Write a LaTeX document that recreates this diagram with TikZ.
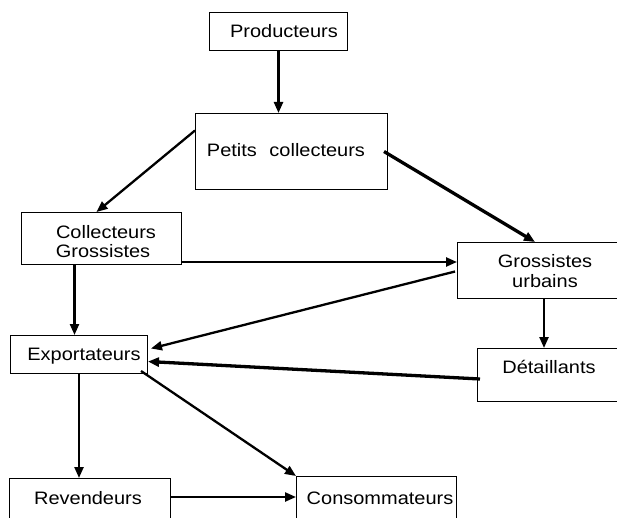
\documentclass[tikz,border=0pt]{standalone}
\usepackage{fontspec}
\setmainfont{Liberation Sans}
\usetikzlibrary{arrows.meta}
\newcommand{\wtxt}[1]{\scalebox{1.11}[1]{#1}}
\begin{document}
\begin{tikzpicture}[x=1pt,y=-1pt,
  box/.style={draw=black, line width=1pt, inner sep=0pt, anchor=north west},
  lbl/.style={anchor=base, inner sep=0pt, font=\fontsize{18}{20}\selectfont},
  conn/.style={line width=2.3pt, -{Triangle[length=11pt,width=9pt]}},
  thickconn/.style={conn, line width=3.3pt}]
\path[use as bounding box] (0,0) rectangle (617,518);
\fill[white] (0,0) rectangle (617,518);
\clip (0,0) rectangle (617,518);

% boxes
\node[box, minimum width=138pt, minimum height=38pt] (prod) at (209,12) {};
\node[box, minimum width=192pt, minimum height=76pt] (petits) at (195,113) {};
\node[box, minimum width=160pt, minimum height=52pt] (collg) at (21,212) {};
\node[box, minimum width=165pt, minimum height=56pt] (grossu) at (457,242) {};
\node[box, minimum width=137pt, minimum height=38pt] (export) at (10,335) {};
\node[box, minimum width=145pt, minimum height=53pt] (detail) at (477,348) {};
\node[box, minimum width=161pt, minimum height=60pt] (reven) at (9,478) {};
\node[box, minimum width=160pt, minimum height=60pt] (conso) at (296,476) {};

% labels
\node[lbl] (prodt) at (284,38) {\wtxt{Producteurs}};
\node[lbl] (petitst) at (286,157) {\wtxt{Petits\hspace{0.35em} collecteurs}};
\node[lbl] (collgt1) at (106,238) {\wtxt{Collecteurs}};
\node[lbl] (collgt2) at (103,258) {\wtxt{Grossistes}};
\node[lbl] (grossut1) at (545,267) {\wtxt{Grossistes}};
\node[lbl] (grossut2) at (545,287) {\wtxt{urbains}};
\node[lbl] (exportt) at (84,360) {\wtxt{Exportateurs}};
\node[lbl] (detailt) at (549,373) {\wtxt{Détaillants}};
\node[lbl] (revent) at (88,504) {\wtxt{Revendeurs}};
\node[lbl] (consot) at (380,504) {\wtxt{Consommateurs}};

% connectors
\draw[conn] (prod.south) -- (prod.south |- petits.north);
\draw[conn] ([yshift=21pt]petits.west) -- ([xshift=-5pt]collg.north);
\draw[thickconn] ([xshift=-4pt]petits.east) -- ([xshift=78pt]grossu.north west);
\draw[conn] ([yshift=3pt]collg.south east) -- ([yshift=3pt]collg.south east -| grossu.west);
\draw[conn] ([xshift=-27pt]collg.south) -- ([xshift=-27pt]collg.south |- export.north);
\draw[conn] ([xshift=-2pt,yshift=-1pt]grossu.west) -- ([xshift=3pt,yshift=6pt]export.east);
\draw[conn] ([xshift=-6pt]detail.north |- grossu.south) -- ([xshift=-6pt]detail.north);
\draw[thickconn] ([xshift=3pt,yshift=-4pt]detail.west) -- ([yshift=-7pt]export.east);
\draw[conn] (export.south) -- (export.south |- reven.north);
\draw[conn] ([xshift=-7pt,yshift=3pt]export.south east) -- (conso.north west);
\draw[conn] ([yshift=-19pt]reven.north east) -- ([yshift=-19pt]reven.north east -| conso.west);
\end{tikzpicture}
\end{document}
